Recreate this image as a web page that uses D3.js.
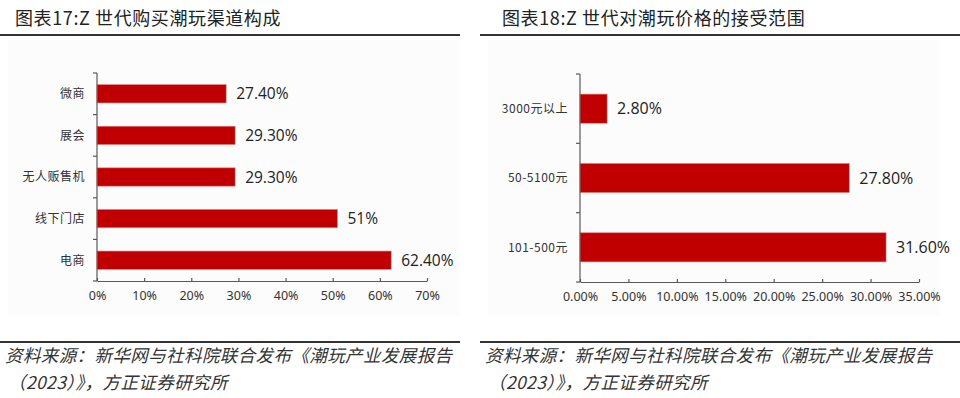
<!DOCTYPE html>
<html>
<head>
<meta charset="utf-8">
<script src="https://cdn.jsdelivr.net/npm/d3@7"></script>
<style>
  body { margin: 0; background: #fff; }
  text { font-family: "Noto Sans CJK SC", "Noto Sans", sans-serif; }
</style>
</head>
<body>
<div id="chart"></div>
<script>
const width = 960;
const height = 398;

// 图表17
const channels = ["微商", "展会", "无人贩售机", "线下门店", "电商"];
const channelValues = [27.4, 29.3, 29.3, 51, 62.4];
const channelLabels = ["27.40%", "29.30%", "29.30%", "51%", "62.40%"];
const channelTicks = [0, 10, 20, 30, 40, 50, 60, 70];

// 图表18
const prices = ["3000元以上", "50-5100元", "101-500元"];
const priceValues = [2.8, 27.8, 31.6];
const priceLabels = ["2.80%", "27.80%", "31.60%"];
const priceTicks = [0, 5, 10, 15, 20, 25, 30, 35];

const titles = ["图表17:Z 世代购买潮玩渠道构成", "图表18:Z 世代对潮玩价格的接受范围"];
const sourceLines = ["资料来源：新华网与社科院联合发布《潮玩产业发展报告", "（2023）》，方正证券研究所"];

const svg = d3.select("#chart")
  .append("svg")
  .attr("width", width)
  .attr("height", height);

function panel(opts) {
  const g = svg.append("g");

  g.append("rect")
    .attr("x", opts.x0 + 8).attr("y", 40)
    .attr("width", 452).attr("height", 276)
    .attr("fill", "#fcfcfc");

  g.append("text")
    .attr("x", opts.x0 + opts.titleX)
    .attr("y", 25)
    .attr("font-size", 18)
    .attr("letter-spacing", 0.6)
    .attr("fill", "#222")
    .text(opts.title);

  g.append("line")
    .attr("x1", opts.x0).attr("x2", opts.x0 + opts.ruleW)
    .attr("y1", 35).attr("y2", 35)
    .attr("stroke", "#333").attr("stroke-width", 2);

  g.append("line")
    .attr("x1", opts.x0).attr("x2", opts.x0 + opts.ruleW)
    .attr("y1", 342).attr("y2", 342)
    .attr("stroke", "#333").attr("stroke-width", 2);

  sourceLines.forEach((s, i) => {
    g.append("text")
      .attr("x", opts.x0 + (i === 0 ? 5 : 8))
      .attr("y", 362 + i * 27)
      .attr("font-size", 17.5)
      .attr("letter-spacing", 0.4)
      .attr("font-style", "italic")
      .attr("fill", "#333")
      .text(s);
  });

  const x = d3.scaleLinear()
    .domain([0, opts.ticks[opts.ticks.length - 1]])
    .range([opts.left, opts.right]);

  const y = d3.scaleBand()
    .domain(opts.cats)
    .range([opts.top, opts.bottom])
    .paddingInner(opts.pad)
    .paddingOuter(opts.pad / 2);

  // bars
  g.selectAll(".bar")
    .data(opts.cats)
    .enter()
    .append("rect")
    .attr("x", x(0))
    .attr("y", d => y(d))
    .attr("width", (d, i) => x(opts.values[i]) - x(0))
    .attr("height", y.bandwidth())
    .attr("fill", "#c00000")
    .attr("stroke", "#e08080")
    .attr("stroke-width", 0.6);

  // value labels
  g.selectAll(".val")
    .data(opts.cats)
    .enter()
    .append("text")
    .attr("x", (d, i) => x(opts.values[i]) + 10)
    .attr("y", d => y(d) + y.bandwidth() / 2)
    .attr("dy", "0.36em")
    .attr("font-size", opts.valSize)
    .attr("fill", "#222")
    .style("font-family", "'Open Sans', 'Noto Sans', sans-serif")
    .text((d, i) => opts.labels[i]);

  // y axis with ticks on band boundaries
  const ax = "#595959";
  g.append("line")
    .attr("x1", x(0)).attr("x2", x(0))
    .attr("y1", opts.top).attr("y2", opts.bottom)
    .attr("stroke", ax).attr("stroke-width", 1.2);

  const step = (opts.bottom - opts.top) / opts.cats.length;
  d3.range(opts.cats.length + 1).forEach(i => {
    g.append("line")
      .attr("x1", x(0) - 4).attr("x2", x(0))
      .attr("y1", opts.top + i * step).attr("y2", opts.top + i * step)
      .attr("stroke", ax).attr("stroke-width", 1.2);
  });

  g.selectAll(".cat")
    .data(opts.cats)
    .enter()
    .append("text")
    .attr("x", x(0) - 12)
    .attr("y", d => y(d) + y.bandwidth() / 2)
    .attr("dy", "0.36em")
    .attr("text-anchor", "end")
    .attr("font-size", 12)
    .attr("letter-spacing", 0.5)
    .attr("fill", "#333")
    .text(d => d);

  // x axis
  const xAxis = g.append("g")
    .attr("transform", `translate(0,${opts.bottom})`)
    .call(d3.axisBottom(x)
      .tickValues(opts.ticks)
      .tickSize(-3)
      .tickSizeOuter(0)
      .tickPadding(10)
      .tickFormat(opts.fmt));

  xAxis.select(".domain").attr("stroke", ax).attr("stroke-width", 1.2);
  xAxis.selectAll(".tick line").attr("stroke", ax).attr("stroke-width", 1.2);
  xAxis.selectAll("text")
    .attr("font-size", 12.5)
    .attr("fill", "#333")
    .style("font-family", "'Noto Sans', sans-serif");
}

panel({
  x0: 0, titleX: 15, ruleW: 460,
  title: titles[0],
  cats: channels, values: channelValues, labels: channelLabels, ticks: channelTicks,
  left: 97, right: 427, top: 73, bottom: 281, pad: 0.56, valSize: 15.5,
  fmt: d => d + "%"
});

panel({
  x0: 480, titleX: 22, ruleW: 480,
  title: titles[1],
  cats: prices, values: priceValues, labels: priceLabels, ticks: priceTicks,
  left: 580, right: 919, top: 74, bottom: 282, pad: 0.58, valSize: 16,
  fmt: d => d.toFixed(2) + "%"
});
</script>
</body>
</html>
